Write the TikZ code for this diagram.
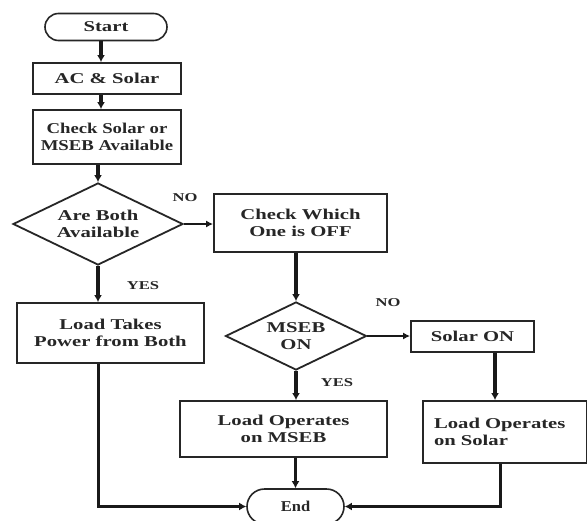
\documentclass[tikz,border=0pt]{standalone}
\usepackage{fontspec}
\setmainfont[FakeStretch=1.38]{Liberation Serif}
\newfontfamily\snugfont[FakeStretch=1.25]{Liberation Serif}
\newfontfamily\endfont[FakeStretch=1.1]{Liberation Serif}
\usetikzlibrary{shapes.geometric,shapes.misc,arrows.meta}
\begin{document}
\begin{tikzpicture}[x=1pt,y=-1pt,
  every node/.style={font=\bfseries\fontsize{15}{17.5}\selectfont, text=black!85},
  box/.style={draw=black!85, line width=1.8pt, rectangle, inner sep=0pt, align=center},
  term/.style={draw=black!85, line width=1.6pt, rounded rectangle, inner sep=0pt},
  decide/.style={draw=black!85, line width=1.8pt, diamond, aspect=2, inner sep=0pt, align=center},
  flow/.style={draw=black!90, line width=3.4pt, -{Latex[length=7pt,width=8pt]}},
  side/.style={draw=black!90, line width=2.2pt, -{Latex[length=7pt,width=7pt]}},
  tag/.style={font=\bfseries\fontsize{12}{14}\selectfont, inner sep=0pt}
]
\useasboundingbox (0,0) rectangle (587,520);
\clip (0,0) rectangle (587,520);
\fill[white] (0,0) rectangle (587,520);

% main column
\node[term, minimum width=122pt, minimum height=27pt] (start) at (106,27) {Start};
\node[box, minimum width=148pt, minimum height=31pt] (acs) at (107,78.5) {AC \& Solar};
\node[box, minimum width=148pt, minimum height=54pt, font=\snugfont\bfseries\fontsize{15}{17}\selectfont] (chk) at (107,137) {Check Solar or\\MSEB Available};
\node[decide, minimum width=170pt, minimum height=82pt] (both) at (98,224) {Are Both\\Available};
\node[box, minimum width=187pt, minimum height=60pt] (loadb) at (110.5,333) {Load Takes\\Power from Both};

% second column
\node[box, minimum width=173pt, minimum height=58pt] (which) at (300.5,223) {Check Which\\One is OFF};
\node[decide, minimum width=141pt, minimum height=68pt] (mseb) at (296,336) {MSEB\\ON};
\node[box, minimum width=207pt, minimum height=56pt] (loadm) at (283.5,429) {Load Operates\\on MSEB};

% third column
\node[box, minimum width=123pt, minimum height=31pt] (solar) at (472.5,336.5) {Solar ON};
\node[box, minimum width=164pt, minimum height=62pt, text width=142pt, inner xsep=11pt, align=left] (loads) at (505,432) {Load Operates\\on Solar};

% terminal
\node[term, minimum width=97pt, minimum height=35pt, font=\endfont\bfseries\fontsize{15}{17}\selectfont] (end) at (295.5,506.5) {End};

% connectors
\draw[flow] (start.south -| 101,0) -- (acs.north -| 101,0);
\draw[flow] (acs.south -| 101,0) -- (chk.north -| 101,0);
\draw[flow] (chk.south -| both.north) -- (both.north);
\draw[flow] (both.south) -- (both.south |- loadb.north);
\draw[side] (both.east) -- (which.west |- both.east);
\draw[flow] (which.south -| mseb.north) -- (mseb.north);
\draw[side] (mseb.east) -- (solar.west |- mseb.east);
\draw[flow] (mseb.south) -- (mseb.south |- loadm.north);
\draw[flow] (loadm.south -| end.north) -- (end.north);
\draw[flow] (solar.south -| 495,0) -- (loads.north -| 495,0);
\draw[flow, line width=3pt] (loads.south -| 500,0) |- (end.east);
\draw[flow, line width=3pt] (loadb.south -| both.south) |- (end.west);

% branch labels
\node[tag] (no1) at (185,198) {NO};
\node[tag] (yes1) at (143,286) {YES};
\node[tag] (no2) at (388,303) {NO};
\node[tag] (yes2) at (337,383) {YES};
\end{tikzpicture}
\end{document}
